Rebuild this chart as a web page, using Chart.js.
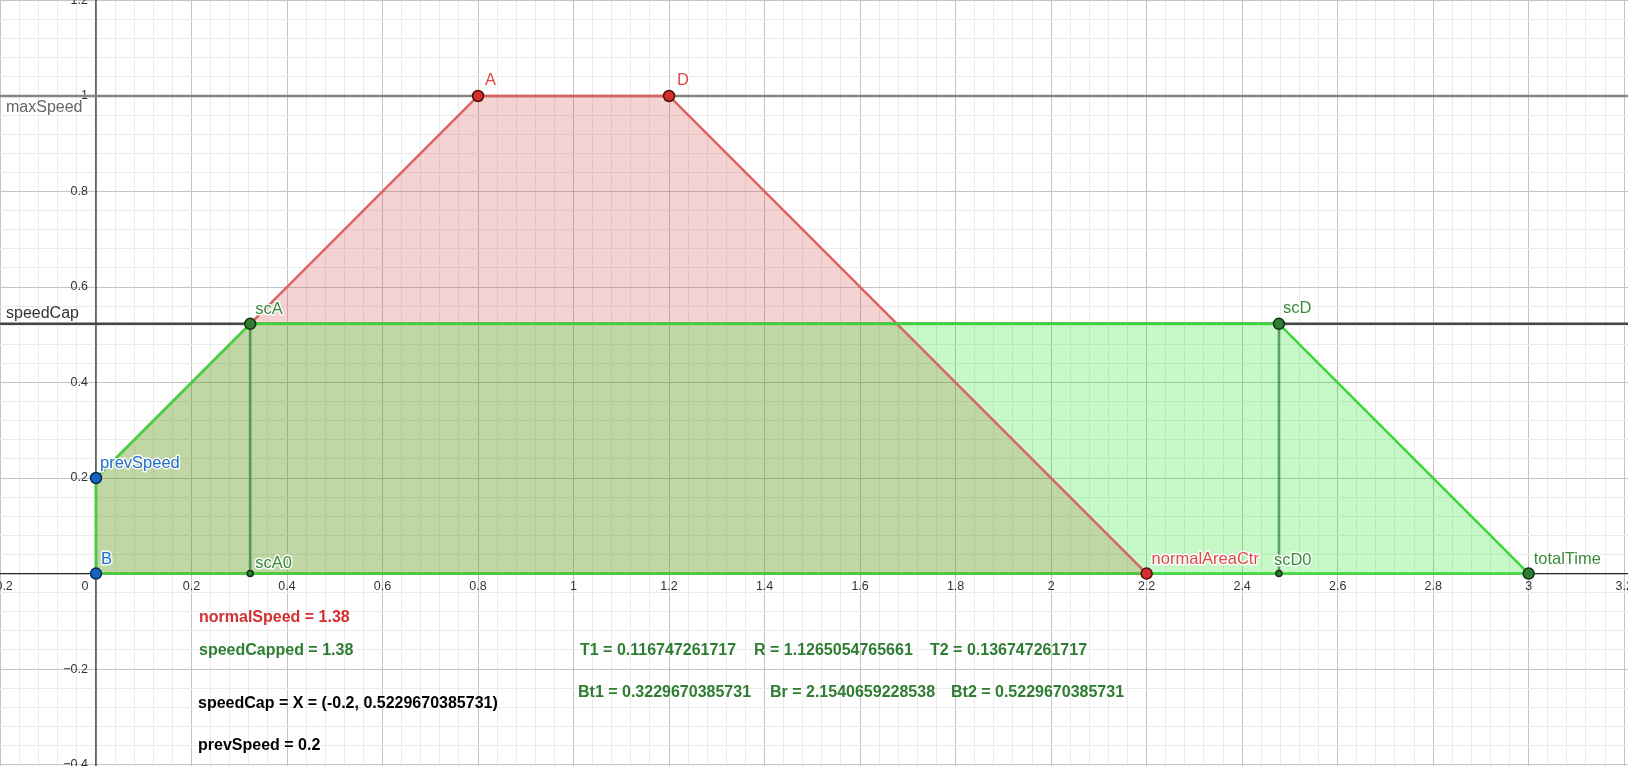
<!DOCTYPE html>
<html><head><meta charset="utf-8">
<script src="https://cdn.jsdelivr.net/npm/chart.js@4"></script>
<style>html,body{margin:0;padding:0;background:#fff;overflow:hidden}canvas{display:block}</style>
</head><body>
<canvas id="c" width="1628" height="766"></canvas>
<script>
// ---- data ----
const xRange = [-0.201, 3.208];
const yRange = [-0.403, 1.201];
const normalX = [0, 0, 0.8, 1.2, 2.2, 0];
const normalY = [0, 0.2, 1, 1, 0, 0];
const cappedX = [0, 0, 0.3229670385731, 2.4770329614269, 3, 0];
const cappedY = [0, 0.2, 0.5229670385731, 0.5229670385731, 0, 0];
const maxSpeed = 1;
const speedCap = 0.5229670385731;
const pointNames = ['B', 'prevSpeed', 'A', 'D', 'normalAreaCtr', 'scA', 'scD', 'totalTime', 'scA0', 'scD0'];
const pointX = [0, 0, 0.8, 1.2, 2.2, 0.3229670385731, 2.4770329614269, 3, 0.3229670385731, 2.4770329614269];
const pointY = [0, 0.2, 1, 1, 0, 0.5229670385731, 0.5229670385731, 0, 0, 0];
const pointGroup = ['blue', 'blue', 'red', 'red', 'red', 'green', 'green', 'green', 'small', 'small'];
const xTickLabels = [-0.2, 0.2, 0.4, 0.6, 0.8, 1, 1.2, 1.4, 1.6, 1.8, 2, 2.2, 2.4, 2.6, 2.8, 3, 3.2];
const yTickLabels = [-0.4, -0.2, 0.2, 0.4, 0.6, 0.8, 1, 1.2];
const lineLabels = ['maxSpeed', 'speedCap'];
const infoTexts = [
  ['normalSpeed = 1.38', 'red'],
  ['speedCapped = 1.38', 'green'],
  ['speedCap = X = (-0.2, 0.5229670385731)', 'black'],
  ['prevSpeed = 0.2', 'black'],
  ['T1 = 0.116747261717', 'green'],
  ['R = 1.1265054765661', 'green'],
  ['T2 = 0.136747261717', 'green'],
  ['Bt1 = 0.3229670385731', 'green'],
  ['Br = 2.1540659228538', 'green'],
  ['Bt2 = 0.5229670385731', 'green']
];

// ---- styles / layout ----
const FONT = "'Liberation Sans', Arial, sans-serif";
const colors = {red: '#d32f2f', green: '#2e7d32', blue: '#1565c0', black: '#000'};
const groupStyle = {
  blue: {r: 5.5, bg: '#1565c0', bd: '#0b2a50'},
  red: {r: 5.5, bg: '#d32f2f', bd: '#4a0e0e'},
  green: {r: 5.5, bg: '#2e7d32', bd: '#123214'},
  small: {r: 3, bg: '#2e7d32', bd: '#123214'}
};
const labelOffset = {
  B: [5, -9.5], prevSpeed: [4, -10], A: [7, -11], D: [8, -11], normalAreaCtr: [5, -10],
  scA: [5, -10], scD: [4, -10.5], totalTime: [5, -10], scA0: [5, -5.5], scD0: [-5, -8.5]
};
const labelColor = {blue: '#1f6fd0', red: '#e04848', green: '#3b8a3e', small: '#3b8a3e'};
const infoPos = [[199, 622], [199, 655], [198, 707.5], [198, 749.5],
  [580, 655], [754, 655], [930, 655], [578, 696.5], [770, 696.5], [951, 696.5]];

function gridTicks(min, max) {
  const arr = [];
  for (let i = Math.ceil(min / 0.04 - 1e-9); i * 0.04 <= max + 1e-9; i++) arr.push({value: +(i * 0.04).toFixed(4)});
  return arr;
}
function gridColor(c) {
  const v = c.tick.value;
  const k = v / 0.2;
  return Math.abs(k - Math.round(k)) < 1e-6 ? '#c4c4c4' : '#ebebeb';
}
function fmt(v) {
  let s = (Math.round(v * 10) / 10).toString();
  return s.replace('-', '\u2212');
}

const toPts = (xs, ys) => xs.map((x, i) => ({x, y: ys[i]}));

const overlay = {
  id: 'overlay',
  beforeDatasetsDraw(chart) {
    const {ctx, scales: {x, y}} = chart;
    const x0 = x.getPixelForValue(0), y0 = y.getPixelForValue(0);
    ctx.save();
    // axes
    ctx.strokeStyle = '#252525'; ctx.lineWidth = 1.2;
    ctx.beginPath();
    ctx.moveTo(0, y0); ctx.lineTo(chart.width, y0);
    ctx.moveTo(x0, 0); ctx.lineTo(x0, chart.height);
    ctx.stroke();
    // tick labels
    ctx.fillStyle = '#333'; ctx.font = '12.5px ' + FONT;
    ctx.textAlign = 'center'; ctx.textBaseline = 'middle';
    xTickLabels.forEach(v => ctx.fillText(fmt(v), x.getPixelForValue(v), y0 + 13));
    ctx.fillText('0', x0 - 11, y0 + 13);
    ctx.textAlign = 'right';
    yTickLabels.forEach(v => ctx.fillText(fmt(v), x0 - 8, y.getPixelForValue(v)));
    // line labels
    ctx.font = '16px ' + FONT; ctx.textAlign = 'left'; ctx.textBaseline = 'alphabetic';
    ctx.fillStyle = '#666';
    ctx.fillText(lineLabels[0], 6, y.getPixelForValue(maxSpeed) + 16.5);
    ctx.fillStyle = '#333';
    ctx.fillText(lineLabels[1], 6, y.getPixelForValue(speedCap) - 6);
    ctx.restore();
  },
  afterDatasetsDraw(chart) {
    const {ctx, scales: {x, y}} = chart;
    ctx.save();
    ctx.font = '16.5px ' + FONT; ctx.textAlign = 'left'; ctx.textBaseline = 'alphabetic';
    ctx.lineJoin = 'round';
    pointNames.forEach((n, i) => {
      const px = x.getPixelForValue(pointX[i]) + labelOffset[n][0];
      const py = y.getPixelForValue(pointY[i]) + labelOffset[n][1];
      ctx.strokeStyle = 'rgba(255,255,255,0.9)'; ctx.lineWidth = 3;
      ctx.strokeText(n, px, py);
      ctx.fillStyle = labelColor[pointGroup[i]];
      ctx.fillText(n, px, py);
    });
    ctx.font = 'bold 16px ' + FONT;
    infoTexts.forEach((t, i) => {
      const [px, py] = infoPos[i];
      ctx.fillStyle = colors[t[1]];
      ctx.fillText(t[0], px, py);
    });
    ctx.restore();
  }
};

const scaleOpts = (range) => ({
  type: 'linear', min: range[0], max: range[1],
  ticks: {display: false},
  grid: {drawTicks: false, color: gridColor, lineWidth: 1},
  border: {display: false},
  afterBuildTicks: s => { s.ticks = gridTicks(s.min, s.max); }
});

new Chart(document.getElementById('c'), {
  type: 'scatter',
  data: {
    datasets: [
      {label: 'maxSpeed', data: [{x: xRange[0], y: maxSpeed}, {x: xRange[1], y: maxSpeed}], showLine: true,
        borderColor: '#858585', borderWidth: 2.5, pointRadius: 0, order: 20},
      {label: 'speedCap', data: [{x: xRange[0], y: speedCap}, {x: xRange[1], y: speedCap}], showLine: true,
        borderColor: '#464646', borderWidth: 2.5, pointRadius: 0, order: 19},
      {label: 'normal fill', data: toPts(normalX, normalY), showLine: true, fill: 'shape', tension: 0,
        borderColor: 'rgba(0,0,0,0)', backgroundColor: 'rgba(214,56,56,0.22)', borderWidth: 0,
        pointRadius: 0, order: 12},
      {label: 'capped fill', data: toPts(cappedX, cappedY), showLine: true, fill: 'shape', tension: 0,
        borderColor: 'rgba(0,0,0,0)', backgroundColor: 'rgba(0,225,0,0.22)', borderWidth: 0,
        pointRadius: 0, order: 11},
      {label: 'normal', data: toPts(normalX, normalY), showLine: true, fill: false, tension: 0,
        borderColor: '#dc6262', borderWidth: 2.5, borderJoinStyle: 'round', pointRadius: 0, order: 10},
      {label: 'capped', data: toPts(cappedX, cappedY), showLine: true, fill: false, tension: 0,
        borderColor: '#38d838', borderWidth: 2.5, borderJoinStyle: 'round', pointRadius: 0, order: 9},
      {label: 'scA-scA0', data: [{x: pointX[5], y: pointY[5]}, {x: pointX[8], y: pointY[8]}], showLine: true,
        borderColor: 'rgba(46,125,50,0.7)', borderWidth: 2.5, pointRadius: 0, order: 5},
      {label: 'scD-scD0', data: [{x: pointX[6], y: pointY[6]}, {x: pointX[9], y: pointY[9]}], showLine: true,
        borderColor: 'rgba(46,125,50,0.7)', borderWidth: 2.5, pointRadius: 0, order: 5},
      {label: 'points', data: toPts(pointX, pointY), showLine: false,
        pointRadius: pointGroup.map(g => groupStyle[g].r),
        pointBackgroundColor: pointGroup.map(g => groupStyle[g].bg),
        pointBorderColor: pointGroup.map(g => groupStyle[g].bd),
        pointBorderWidth: 1.5, order: 1}
    ]
  },
  options: {
    responsive: false, animation: false, events: [],
    layout: {padding: 0, autoPadding: false},
    plugins: {legend: {display: false}, tooltip: {enabled: false}},
    scales: {x: scaleOpts(xRange), y: scaleOpts(yRange)}
  },
  plugins: [overlay]
});
</script>
</body></html>
